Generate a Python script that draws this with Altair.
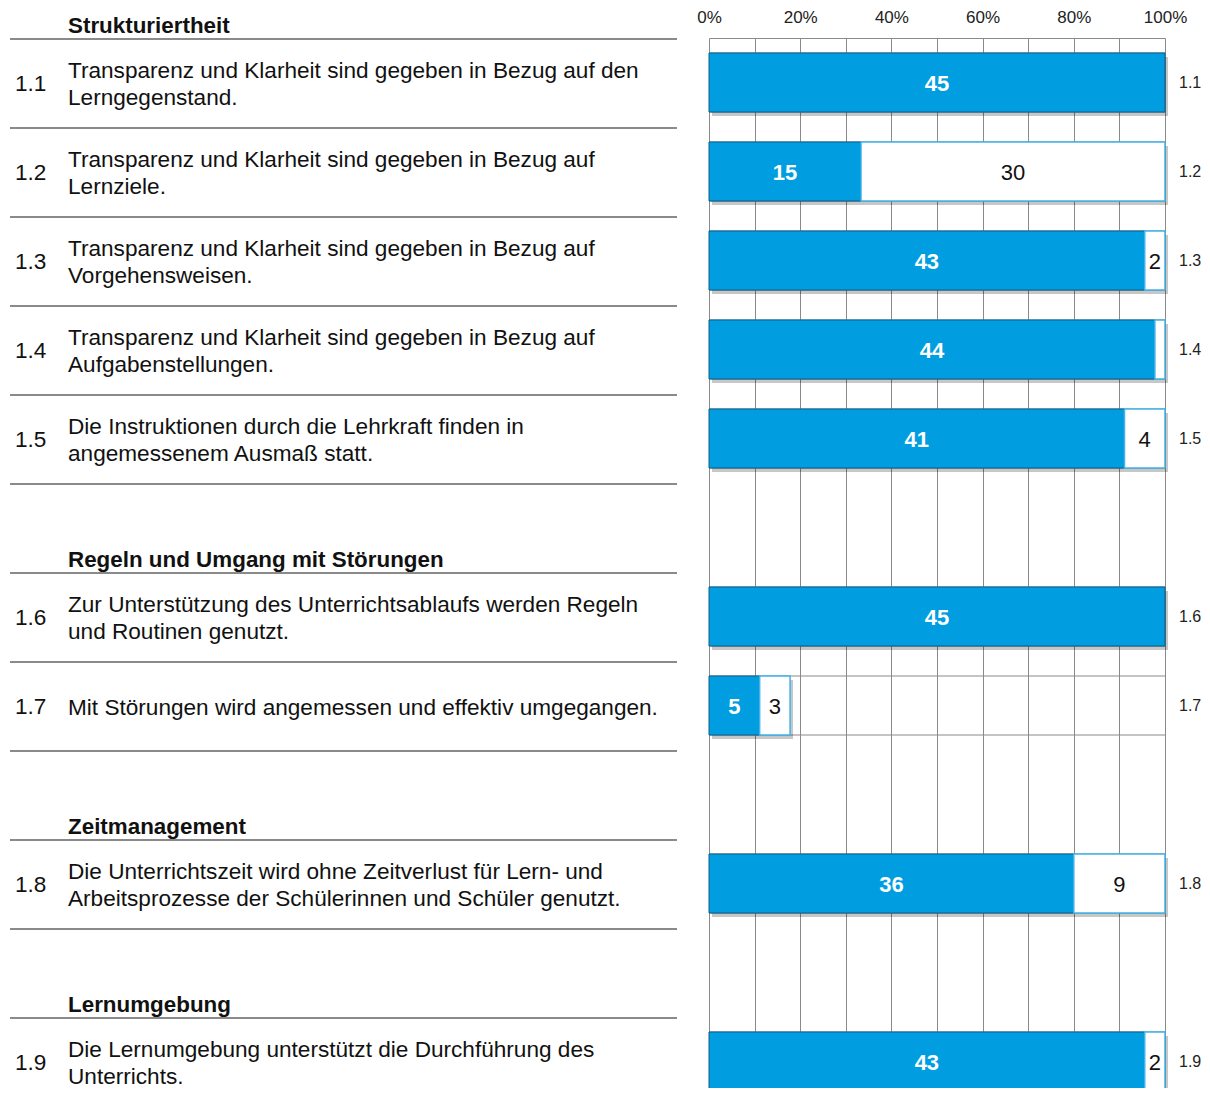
import altair as alt
import pandas as pd

# ---------------- data ----------------
rows = [f"r{i}" for i in range(12)]
items = ["1.1", "1.2", "1.3", "1.4", "1.5", "", "1.6", "1.7", "", "1.8", "", "1.9"]
texts = [
    "Transparenz und Klarheit sind gegeben in Bezug auf den\nLerngegenstand.",
    "Transparenz und Klarheit sind gegeben in Bezug auf\nLernziele.",
    "Transparenz und Klarheit sind gegeben in Bezug auf\nVorgehensweisen.",
    "Transparenz und Klarheit sind gegeben in Bezug auf\nAufgabenstellungen.",
    "Die Instruktionen durch die Lehrkraft finden in\nangemessenem Ausmaß statt.",
    "",
    "Zur Unterstützung des Unterrichtsablaufs werden Regeln\nund Routinen genutzt.",
    "Mit Störungen wird angemessen und effektiv umgegangen.",
    "",
    "Die Unterrichtszeit wird ohne Zeitverlust für Lern- und\nArbeitsprozesse der Schülerinnen und Schüler genutzt.",
    "",
    "Die Lernumgebung unterstützt die Durchführung des\nUnterrichts.",
]
headers = ["Strukturiertheit", "", "", "", "", "", "Regeln und Umgang mit Störungen",
           "", "", "Zeitmanagement", "", "Lernumgebung"]
blue_vals = [45, 15, 43, 44, 41, None, 45, 5, None, 36, None, 43]
white_vals = [0, 30, 2, 1, 4, None, 0, 3, None, 9, None, 2]
white_labels = ["", "30", "2", "", "4", "", "", "3", "", "9", "", "2"]
total_n = 45
x_ticks = [0, 10, 20, 30, 40, 50, 60, 70, 80, 90, 100]

# ---------------- tables ----------------
rowdf = pd.DataFrame({"row": rows, "item": items, "text": texts, "header": headers})
rowdf["multi"] = rowdf["text"].str.contains("\n")

segs = []
totals = []
for r, it, b, w, wl in zip(rows, items, blue_vals, white_vals, white_labels):
    if b is None:
        continue
    bp = b / total_n * 100
    wp = (b + w) / total_n * 100
    segs.append({"row": r, "seg": "blue", "x0": 0, "x1": bp, "mid": bp / 2, "label": str(b)})
    if w > 0:
        segs.append({"row": r, "seg": "white", "x0": bp, "x1": wp, "mid": (bp + wp) / 2, "label": wl})
    totals.append({"row": r, "item": it, "x0": 0, "x1": wp, "xa": 0, "xb": 100})
segdf = pd.DataFrame(segs)
totdf = pd.DataFrame(totals)

FONT = "Liberation Sans"
GRAY = "#8a8a8a"
STEP = 89
NROWS = 12
PAD = 0.337
LH = 27
FS = 22.6

yscale = alt.Scale(domain=rows, range=[0, STEP * NROWS], paddingInner=PAD, paddingOuter=PAD / 2)
xscale = alt.Scale(domain=[0, 100], nice=False, zero=True)

xaxis = alt.Axis(orient="top", values=x_ticks, grid=True, gridColor=GRAY, gridOpacity=1,
                 gridWidth=1, domain=True, domainColor=GRAY, ticks=False, labelFlush=False,
                 labelExpr="datum.value % 20 == 0 ? datum.value + '%' : ''",
                 labelFontSize=17, labelFont=FONT, labelColor="#222", labelPadding=12, title=None)
yaxis = alt.Axis(orient="left", labels=False, ticks=True, tickBand="extent", tickSize=5,
                 tickColor=GRAY, domain=True, domainColor=GRAY, grid=False, title=None)

Yn = alt.Y("row:N", scale=yscale, sort=rows, axis=None)

base_tot = alt.Chart(totdf)

# horizontal gridlines at bar edges
edge_top = base_tot.mark_rule(color=GRAY, strokeWidth=1).encode(
    x=alt.X("xa:Q", scale=xscale, axis=xaxis), x2="xb:Q",
    y=alt.Y("row:N", scale=yscale, sort=rows, axis=yaxis, bandPosition=0))
edge_bot = base_tot.mark_rule(color=GRAY, strokeWidth=1).encode(
    x=alt.X("xa:Q", scale=xscale), x2="xb:Q",
    y=alt.Y("row:N", scale=yscale, sort=rows, axis=None, bandPosition=1))

shadow = base_tot.mark_bar(color="#000", opacity=0.22, xOffset=3, x2Offset=3,
                           yOffset=4, y2Offset=4).encode(
    x=alt.X("x0:Q", scale=xscale), x2="x1:Q", y=Yn)

bars_blue = alt.Chart(segdf).transform_filter("datum.seg == 'blue'").mark_bar(
    color="#009ee0", stroke="#0b5f8c", strokeWidth=1).encode(
    x=alt.X("x0:Q", scale=xscale), x2="x1:Q", y=Yn)
bars_white = alt.Chart(segdf).transform_filter("datum.seg == 'white'").mark_bar(
    color="#ffffff", stroke="#3fb2ea", strokeWidth=1.5).encode(
    x=alt.X("x0:Q", scale=xscale), x2="x1:Q", y=Yn)

lab_blue = alt.Chart(segdf).transform_filter("datum.seg == 'blue'").mark_text(
    font=FONT, fontSize=22, fontWeight="bold", color="white", baseline="middle",
    yOffset=1).encode(
    x=alt.X("mid:Q", scale=xscale), y=Yn, text="label:N")
lab_white = alt.Chart(segdf).transform_filter("datum.seg == 'white'").mark_text(
    font=FONT, fontSize=22, color="#111", baseline="middle", yOffset=1).encode(
    x=alt.X("mid:Q", scale=xscale), y=Yn, text="label:N")

right_lab = base_tot.mark_text(font=FONT, fontSize=16, color="#222", align="left",
                               baseline="middle").encode(
    x=alt.value(470), y=Yn, text="item:N")

# left text table
base_row = alt.Chart(rowdf)
dividers = base_row.mark_rule(color=GRAY, strokeWidth=2, yOffset=-STEP / 2 + 1).encode(
    x=alt.value(-699), x2=alt.value(-32), y=Yn)
num_txt = base_row.mark_text(font=FONT, fontSize=FS, color="#111", align="left",
                             baseline="middle", yOffset=1).encode(
    x=alt.value(-694), y=Yn, text="item:N")
item_multi = base_row.transform_filter("datum.multi").mark_text(
    font=FONT, fontSize=FS, color="#111", align="left", baseline="middle",
    lineBreak="\n", lineHeight=LH, yOffset=-LH / 2 + 2).encode(
    x=alt.value(-641), y=Yn, text="text:N")
item_single = base_row.transform_filter("!datum.multi").mark_text(
    font=FONT, fontSize=FS, color="#111", align="left", baseline="middle",
    yOffset=2.5).encode(
    x=alt.value(-641), y=Yn, text="text:N")
head_txt = base_row.mark_text(font=FONT, fontSize=22.4, fontWeight="bold", color="#111",
                              align="left", baseline="alphabetic",
                              yOffset=-STEP / 2 - 5).encode(
    x=alt.value(-641), y=Yn, text="header:N")

chart = alt.layer(
    edge_top, edge_bot, shadow, bars_blue, bars_white, lab_blue, lab_white, right_lab,
    dividers, num_txt, item_multi, item_single, head_txt,
).properties(
    width=456, height=1050,
    autosize=alt.AutoSizeParams(type="none"),
    padding={"left": 701, "top": 30, "right": 37, "bottom": 0},
).configure_view(strokeWidth=0)

chart.save("out.html", embed_options={"renderer": "svg", "actions": False})
